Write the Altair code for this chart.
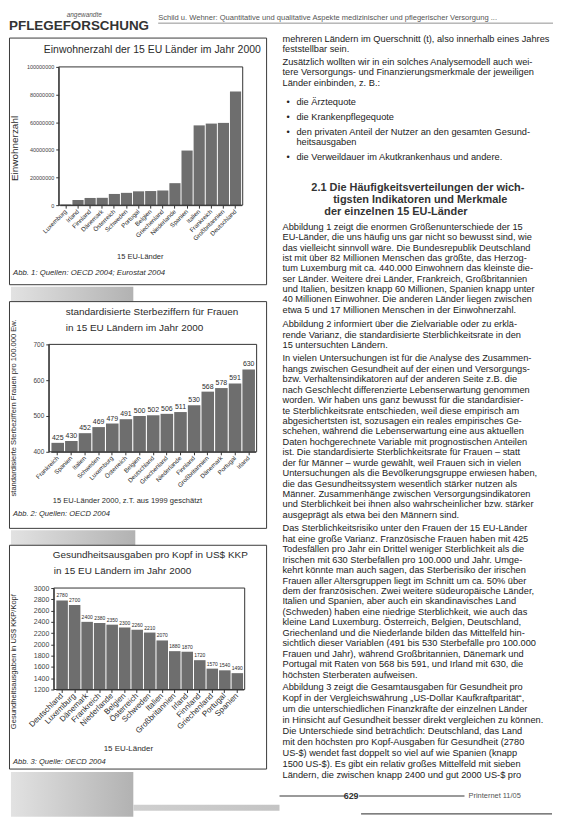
import altair as alt
import pandas as pd

FONT = "Liberation Sans"
INK = "#2b2b2b"
BAR = "#6e6e6e"

# ---------------- data ----------------
# Abb. 1: Einwohnerzahl 2000
pop_countries = ["Luxemburg", "Irland", "Finnland", "Dänemark", "Österreich", "Schweden", "Portugal",
                 "Belgien", "Griechenland", "Niederlande", "Spanien", "Italien", "Frankreich",
                 "Großbritannien", "Deutschland"]
pop_values = [440000, 3800000, 5200000, 5300000, 8100000, 8900000, 10000000, 10200000, 10600000,
              15900000, 39500000, 57700000, 59000000, 59500000, 82200000]
pop_ticks = [0, 20000000, 40000000, 60000000, 80000000, 100000000]

# Abb. 2: standardisierte Sterbeziffern Frauen
mort_countries = ["Frankreich", "Spanien", "Italien", "Schweden", "Luxemburg", "Österreich", "Belgien",
                  "Deutschland", "Griechenland", "Niederlande", "Finnland", "Großbritannien", "Dänemark",
                  "Portugal", "Irland"]
mort_values = [425, 430, 452, 469, 479, 491, 500, 502, 506, 511, 530, 568, 578, 591, 630]
mort_ticks = [400, 500, 600, 700]

# Abb. 3: Gesundheitsausgaben pro Kopf
exp_countries = ["Deutschland", "Luxemburg", "Dänemark", "Frankreich", "Niederlande", "Belgien",
                 "Österreich", "Schweden", "Italien", "Großbritannien", "Irland", "Finnland",
                 "Griechenland", "Portugal", "Spanien"]
exp_values = [2780, 2700, 2400, 2380, 2350, 2300, 2260, 2210, 2070, 1880, 1870, 1720, 1570, 1540, 1490]
exp_ticks = [1200, 1400, 1600, 1800, 2000, 2200, 2400, 2600, 2800, 3000]

ONE = alt.Data(values=[{"k": 0}])
RX = 270  # left edge of the text column, in figure-1 coordinates


def txt(s, x, y, size=8.0, angle=0, align="left", weight="normal", style="normal", color=INK):
    props = dict(text=s, align=align, baseline="middle", font=FONT, fontSize=size,
                 fontWeight=weight, fontStyle=style, color=color)
    if angle:
        props["angle"] = angle
    return alt.Chart(ONE).mark_text(**props).encode(x=alt.value(x), y=alt.value(y))


def box(x, y, x2, y2, color="#3a3a3a", width=1.0):
    return alt.Chart(ONE).mark_rect(fillOpacity=0, stroke=color, strokeWidth=width).encode(
        x=alt.value(x), x2=alt.value(x2), y=alt.value(y), y2=alt.value(y2))


def rule(x, y, x2, y2, color="#444", width=1.0):
    return alt.Chart(ONE).mark_rule(color=color, strokeWidth=width).encode(
        x=alt.value(x), x2=alt.value(x2), y=alt.value(y), y2=alt.value(y2))


def shade(x, y, x2, y2, c1="#e2e2e2", c2="#b2b2b2"):
    grad = alt.LinearGradient(gradient="linear",
                              stops=[alt.GradientStop(color=c1, offset=0),
                                     alt.GradientStop(color=c2, offset=1)],
                              x1=0, x2=1, y1=0, y2=0)
    return alt.Chart(ONE).mark_rect(fill=grad).encode(
        x=alt.value(x), x2=alt.value(x2), y=alt.value(y), y2=alt.value(y2))


def bar_layers(countries, values, field, axis_x, xr, yr, dom, ticks, height,
               ylab_size, xlab_size, value_size=None):
    df = pd.DataFrame({"Land": countries, field: values})
    x = alt.X("Land:N", sort=countries,
              scale=alt.Scale(range=xr, paddingInner=0.08, paddingOuter=0.05),
              axis=alt.Axis(title=None, orient="bottom", offset=yr[0] - height, labelAngle=315,
                            labelAlign="right", labelBaseline="middle", labelFontSize=xlab_size,
                            labelFont=FONT, labelColor=INK, domainColor="#333", tickColor="#333",
                            tickSize=3, labelPadding=2))
    y = alt.Y(f"{field}:Q",
              scale=alt.Scale(domain=dom, range=yr, nice=False, zero=False),
              axis=alt.Axis(title=None, orient="left", offset=-axis_x, values=ticks, format="d",
                            labelFontSize=ylab_size, labelFont=FONT, labelColor="#444",
                            domainColor="#333", tickColor="#333", tickSize=3, grid=False,
                            labelPadding=2))
    layers = [alt.Chart(df).mark_bar(color=BAR).encode(x=x, y=y, y2=alt.datum(dom[0]))]
    if value_size:
        layers.append(alt.Chart(df).mark_text(dy=-2, font=FONT, fontSize=value_size, color=INK,
                                              baseline="bottom").encode(x=x, y=y, text=f"{field}:Q"))
    return layers


# ---------------- right column text ----------------
paragraphs = [
    (28, 10.4, 5, ["mehreren Ländern im Querschnitt (t), also innerhalb eines Jahres",
                   "feststellbar sein."]),
    (51, 10.4, 5, ["Zusätzlich wollten wir in ein solches Analysemodell auch wei-",
                   "tere Versorgungs- und Finanzierungsmerkmale der jeweiligen",
                   "Länder einbinden, z. B.:"]),
    (91, 0, 19, ["die Ärztequote"]),
    (106, 0, 19, ["die Krankenpflegequote"]),
    (121, 10.2, 19, ["den privaten Anteil der Nutzer an den gesamten Gesund-",
                     "heitsausgaben"]),
    (147, 0, 19, ["die Verweildauer im Akutkrankenhaus und andere."]),
    (217, 10.4, 5, ["Abbildung 1 zeigt die enormen Größenunterschiede der 15",
                    "EU-Länder, die uns häufig uns gar nicht so bewusst sind, wie",
                    "das vielleicht sinnvoll wäre. Die Bundesrepublik Deutschland",
                    "ist mit über 82 Millionen Menschen das größte, das Herzog-",
                    "tum Luxemburg mit ca. 440.000 Einwohnern das kleinste die-",
                    "ser Länder. Weitere drei Länder, Frankreich, Großbritannien",
                    "und Italien, besitzen knapp 60 Millionen, Spanien knapp unter",
                    "40 Millionen Einwohner. Die anderen Länder liegen zwischen",
                    "etwa 5 und 17 Millionen Menschen in der Einwohnerzahl."]),
    (315, 10.4, 5, ["Abbildung 2 informiert über die Zielvariable oder zu erklä-",
                    "rende Varianz, die standardisierte Sterblichkeitsrate in den",
                    "15 untersuchten Ländern."]),
    (349, 10.5, 5, ["In vielen Untersuchungen ist für die Analyse des Zusammen-",
                    "hangs zwischen Gesundheit auf der einen und Versorgungs-",
                    "bzw. Verhaltensindikatoren auf der anderen Seite z.B. die",
                    "nach Geschlecht differenzierte Lebenserwartung genommen",
                    "worden. Wir haben uns ganz bewusst für die standardisier-",
                    "te Sterblichkeitsrate entschieden, weil diese empirisch am",
                    "abgesichertsten ist, sozusagen ein reales empirisches Ge-",
                    "schehen, während die Lebenserwartung eine aus aktuellen",
                    "Daten hochgerechnete Variable mit prognostischen Anteilen",
                    "ist. Die standardisierte Sterblichkeitsrate für Frauen – statt",
                    "der für Männer – wurde gewählt, weil Frauen sich in vielen",
                    "Untersuchungen als die Bevölkerungsgruppe erwiesen haben,",
                    "die das Gesundheitssystem wesentlich stärker nutzen als",
                    "Männer. Zusammenhänge zwischen Versorgungsindikatoren",
                    "und Sterblichkeit bei ihnen also wahrscheinlicher bzw. stärker",
                    "ausgeprägt als etwa bei den Männern sind."]),
    (520, 10.5, 5, ["Das Sterblichkeitsrisiko unter den Frauen der 15 EU-Länder",
                    "hat eine große Varianz. Französische Frauen haben mit 425",
                    "Todesfällen pro Jahr ein Drittel weniger Sterblichkeit als die",
                    "Irischen mit 630 Sterbefällen pro 100.000 und Jahr. Umge-",
                    "kehrt könnte man auch sagen, das Sterberisiko der irischen",
                    "Frauen aller Altersgruppen liegt im Schnitt um ca. 50% über",
                    "dem der französischen. Zwei weitere südeuropäische Länder,",
                    "Italien und Spanien, aber auch ein skandinavisches Land",
                    "(Schweden) haben eine niedrige Sterblichkeit, wie auch das",
                    "kleine Land Luxemburg. Österreich, Belgien, Deutschland,",
                    "Griechenland und die Niederlande bilden das Mittelfeld hin-",
                    "sichtlich dieser Variablen (491 bis 530 Sterbefälle pro 100.000",
                    "Frauen und Jahr), während Großbritannien, Dänemark und",
                    "Portugal mit Raten von 568 bis 591, und Irland mit 630, die",
                    "höchsten Sterberaten aufweisen."]),
    (680, 11.0, 5, ["Abbildung 3 zeigt die Gesamtausgaben für Gesundheit pro",
                    "Kopf in der Vergleichswährung „US-Dollar Kaufkraftparität“,",
                    "um die unterschiedlichen Finanzkräfte der einzelnen Länder",
                    "in Hinsicht auf Gesundheit besser direkt vergleichen zu können.",
                    "Die Unterschiede sind beträchtlich: Deutschland, das Land",
                    "mit den höchsten pro Kopf-Ausgaben für Gesundheit (2780",
                    "US-$) wendet fast doppelt so viel auf wie Spanien (knapp",
                    "1500 US-$). Es gibt ein relativ großes Mittelfeld mit sieben",
                    "Ländern, die zwischen knapp 2400 und gut 2000 US-$ pro"]),
]
bullet_ys = [91, 106, 121, 147]
heading = [(178, 34, "2.1 Die Häufigkeitsverteilungen der wich-"),
           (190, 56, "tigsten Indikatoren und Merkmale"),
           (202, 47, "der einzelnen 15 EU-Länder")]

rows = []
for y0, gap, x0, lines in paragraphs:
    for i, line in enumerate(lines):
        rows.append({"x": RX + x0, "y": y0 + i * gap, "t": line})
rows += [{"x": RX + 9, "y": by, "t": "•"} for by in bullet_ys]
body_df = pd.DataFrame(rows)
head_df = pd.DataFrame([{"x": RX + hx, "y": hy, "t": ht} for hy, hx, ht in heading])

body = alt.Chart(body_df).mark_text(align="left", baseline="middle", font=FONT, fontSize=9.3,
                                    color="#222").encode(
    x=alt.X("x:Q", scale=None, axis=None), y=alt.Y("y:Q", scale=None, axis=None), text="t:N")
head = alt.Chart(head_df).mark_text(align="left", baseline="middle", font=FONT, fontSize=11,
                                    fontWeight="bold", color="#333").encode(
    x=alt.X("x:Q", scale=None, axis=None), y=alt.Y("y:Q", scale=None, axis=None), text="t:N")

# ---------------- Abb. 1 (carries the page header, text column and footer) ----------------
H1 = 282
fig1 = alt.layer(
    *bar_layers(pop_countries, pop_values, "Einwohner", 50, [51, 234], [195, 56],
                [0, 100000000], pop_ticks, H1, 5.5, 6.2),
    body, head,
    txt("angewandte", 58, 4, size=6.5, style="italic", color="#555"),
    txt("PFLEGEFORSCHUNG", 0, 15, size=13.5, weight="bold", color="#333"),
    txt("Schild u. Wehner: Quantitative und qualitative Aspekte medizinischer und pflegerischer Versorgung ...",
        150, 7, size=7.6, color="#555"),
    rule(150, 12, 547, 12, "#777", 0.8),
    box(0.5, 27, 259, 275),
    txt("Einwohnerzahl der 15 EU Länder im Jahr 2000", 35, 39, size=10.5),
    box(50, 56, 235, 195, "#333", 1),
    txt("Einwohnerzahl", 6, 138, size=10, angle=270, align="center"),
    txt("15 EU-Länder", 132, 247, size=7.5, align="center"),
    txt("Abb. 1: Quellen: OECD 2004; Eurostat 2004", 4, 263, size=7.8, style="italic"),
    shade(2, 277, 125, 292),
    rule(RX + 2, 789, RX + 68, 789, "#9a9a9a", 2),
    txt("629", RX + 74, 789, size=9, weight="bold", align="center", color="#333"),
    rule(RX + 82, 789, RX + 188, 789, "#9a9a9a", 2),
    txt("Printernet 11/05", RX + 192, 789, size=7.5, color="#555"),
    rule(RX + 84, 807, RX + 276, 807, "#555", 1.2),
).resolve_scale(x="independent", y="independent").properties(width=270, height=H1)

# ---------------- Abb. 2 ----------------
H2 = 245
fig2 = alt.layer(
    *bar_layers(mort_countries, mort_values, "Rate", 40, [42, 248], [161, 53],
                [400, 700], mort_ticks, H2, 6.5, 6.2, value_size=7),
    box(0.5, 10, 259, 238),
    txt("standardisierte Sterbeziffern für Frauen", 57, 20, size=10),
    txt("in 15 EU Ländern im Jahr 2000", 57, 37, size=10),
    box(40, 53, 249, 161, "#333", 1),
    txt("standardisierte Sterbeziffern Frauen pro 100.000 Ew.", 5, 117, size=7.6, angle=270,
        align="center"),
    txt("15 EU-Länder 2000, z.T. aus 1999 geschätzt", 44, 210, size=7.6),
    txt("Abb. 2: Quellen: OECD 2004", 4, 224, size=7.6, style="italic"),
    shade(2, 240, 127, 255),
).properties(width=270, height=H2)

# ---------------- Abb. 3 ----------------
H3 = 275
fig3 = alt.layer(
    *bar_layers(exp_countries, exp_values, "Ausgaben", 45, [47, 236], [155, 53],
                [1200, 3000], exp_ticks, H3, 7, 8, value_size=5),
    box(0.5, 10, 259, 235),
    txt("Gesundheitsausgaben pro Kopf in US$ KKP", 44, 20, size=10),
    txt("in 15 EU Ländern im Jahr 2000", 45, 36, size=10),
    box(45, 53, 237, 155, "#333", 1),
    txt("Gesundheitsausgaben in US$ KKP/Kopf", 5, 127, size=7.6, angle=270, align="center"),
    txt("15 EU-Länder", 120, 215, size=8, align="center"),
    txt("Abb. 3: Quelle: OECD 2004", 4, 228, size=7.6, style="italic"),
    shade(2, 238, 125, 283),
    shade(125, 271, 272, 277, "#cfcfcf", "#c4c4c4"),
).properties(width=270, height=H3)

chart = alt.vconcat(fig1, fig2, fig3, spacing=0, bounds="flush").properties(
    padding=0
).configure_view(stroke="transparent").configure_axis(grid=False, labelFont=FONT)

chart.save("out.html", embed_options={"renderer": "svg", "actions": False})
